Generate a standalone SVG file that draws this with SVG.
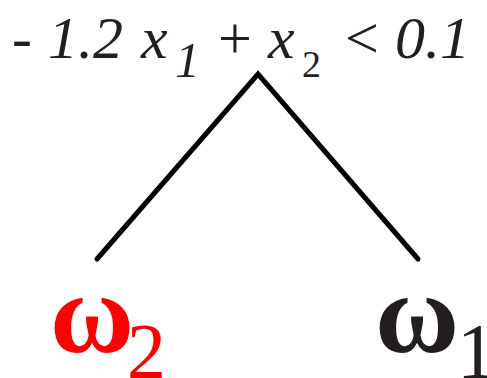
<svg xmlns="http://www.w3.org/2000/svg" width="487" height="378" viewBox="0 0 487 378">
<style>
.t{font-family:'Liberation Serif',serif}
.it{font-style:italic}
.m{font-size:60px}
.om{font-size:115px;font-weight:bold}
.sub{font-size:78px}
.edge{stroke:#000;stroke-width:5;fill:none;stroke-linecap:round;stroke-linejoin:miter}
</style>
<g id="root" fill="#231f20">
<text class="t m" x="12" y="58">-</text>
<text class="t m it" x="48" y="58">1.2</text>
<text class="t m it" x="141" y="58">x</text>
<text class="t it" style="font-size:50px" x="175" y="77">1</text>
<text class="t m" x="218" y="58">+</text>
<text class="t m it" x="268" y="58">x</text>
<text class="t" style="font-size:38px" x="302" y="77">2</text>
<text class="t m" x="345" y="58">&lt;</text>
<text class="t m it" x="395" y="58">0.1</text>
</g>
<g id="connectors">
<path class="edge" d="M97,259 L258,74 L418,259"/>
</g>
<g id="omega2" fill="#ff0000">
<text class="t om" x="50" y="352">ω</text>
<text class="t sub" x="127" y="377">2</text>
</g>
<g id="omega1" fill="#231f20">
<text class="t om" x="375" y="352">ω</text>
<text class="t sub" x="457" y="377">1</text>
</g>
</svg>
